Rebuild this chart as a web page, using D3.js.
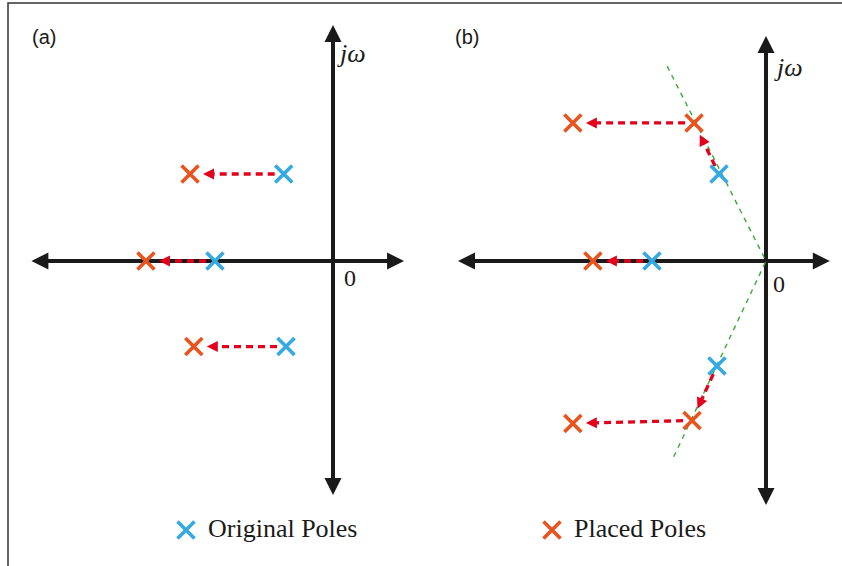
<!DOCTYPE html>
<html>
<head>
<meta charset="utf-8">
<script src="https://cdn.jsdelivr.net/npm/d3@7"></script>
<style>
  body { margin: 0; background: #fff; }
  svg { display: block; }
</style>
</head>
<body>
<script>
'use strict';

// pole positions in s-plane units [sigma, omega]
const originalA = [[-1.7, 3.0], [-4.07, 0], [-1.62, -2.95]];
const placedA = [[-4.93, 3.0], [-6.45, 0], [-4.8, -2.95]];
// moves in panel (a): index into original -> index into placed
const movesA = [[0, 0], [1, 1], [2, 2]];

const originalB = [[-3.93, 0], [-1.62, 3.0], [-1.69, -3.62]];
const placedB = [[-5.97, 0], [-2.48, 4.76], [-6.66, 4.76], [-2.55, -5.5], [-6.66, -5.6]];
// moves in panel (b): [from, to] as points
const movesB = [
  [originalB[0], placedB[0]],
  [originalB[1], placedB[1]],
  [placedB[1], placedB[2]],
  [originalB[2], placedB[3]],
  [placedB[3], placedB[4]]
];
// damping-ratio line end points
const dampLine = [[-3.41, 6.72], [0, 0], [-3.2, -6.79]];

const legendLabels = ['Original Poles', 'Placed Poles'];

const BLUE = '#35a9e1', ORANGE = '#e8531e', RED = '#e3001b', GREEN = '#3aaa35', INK = '#1a1a1a';
const UNIT = 29;
const SERIF = '"Liberation Serif", "Times New Roman", "DejaVu Serif", serif';

const width = 842, height = 566;
const svg = d3.select('body').append('svg')
  .attr('width', width).attr('height', height);

// frame (only top and left edges show)
svg.append('path')
  .attr('d', 'M8,' + height + ' V3 H' + width)
  .attr('fill', 'none').attr('stroke', '#333').attr('stroke-width', 1.5);

const panels = [
  {label: '(a)', lx: 32, ly: 44, ox: 333, oy: 261, xmin: -10.4, xmax: 2.45, ymin: -8.07, ymax: 8.14,
   jx: 340, jy: 62, zx: 344, zy: 286},
  {label: '(b)', lx: 455, ly: 44, ox: 766, oy: 261, xmin: -10.62, xmax: 2.2, ymin: -8.41, ymax: 7.76,
   jx: 777, jy: 76, zx: 773, zy: 292}
];

panels.forEach(p => {
  p.x = d3.scaleLinear().domain([0, 1]).range([p.ox, p.ox + UNIT]);
  p.y = d3.scaleLinear().domain([0, 1]).range([p.oy, p.oy - UNIT]);
});

function arrowHead(g, tip, dir, len, half, color) {
  const [ux, uy] = dir;
  const bx = tip[0] - ux * len, by = tip[1] - uy * len;
  const pts = [tip, [bx - uy * half, by + ux * half], [bx + uy * half, by - ux * half]];
  g.append('path')
    .attr('d', 'M' + pts.map(q => q.join(',')).join('L') + 'Z')
    .attr('fill', color);
}

function drawAxes(p) {
  const g = svg.append('g');
  const x0 = p.x(p.xmin), x1 = p.x(p.xmax), y0 = p.y(p.ymin), y1 = p.y(p.ymax);
  const L = 17, H = 8.5;
  g.append('line').attr('x1', x0 + L - 2).attr('x2', x1 - L + 2).attr('y1', p.oy).attr('y2', p.oy)
    .attr('stroke', INK).attr('stroke-width', 4);
  g.append('line').attr('x1', p.ox).attr('x2', p.ox).attr('y1', y1 + L - 2).attr('y2', y0 - L + 2)
    .attr('stroke', INK).attr('stroke-width', 4);
  arrowHead(g, [x0, p.oy], [-1, 0], L, H, INK);
  arrowHead(g, [x1, p.oy], [1, 0], L, H, INK);
  arrowHead(g, [p.ox, y1], [0, -1], L, H, INK);
  arrowHead(g, [p.ox, y0], [0, 1], L, H, INK);

  g.append('text').attr('x', p.jx).attr('y', p.jy)
    .attr('font-family', SERIF)
    .attr('font-style', 'italic').attr('font-size', 26).attr('fill', INK)
    .text('jω');
  g.append('text').attr('x', p.zx).attr('y', p.zy)
    .attr('font-family', SERIF)
    .attr('font-size', 24).attr('fill', INK)
    .text('0');
  g.append('text').attr('x', p.lx).attr('y', p.ly)
    .attr('font-family', '"Liberation Sans", Arial, sans-serif')
    .attr('font-size', 20).attr('fill', INK)
    .text(p.label);
}

function drawMove(p, from, to) {
  const g = svg.append('g');
  const ax = p.x(from[0]), ay = p.y(from[1]), bx = p.x(to[0]), by = p.y(to[1]);
  const d = Math.hypot(bx - ax, by - ay);
  const ux = (bx - ax) / d, uy = (by - ay) / d;
  const start = 9, tipOff = 13, len = 11, half = 5.5;
  const tip = [bx - ux * tipOff, by - uy * tipOff];
  g.append('line')
    .attr('x1', ax + ux * start).attr('y1', ay + uy * start)
    .attr('x2', tip[0] - ux * (len - 1)).attr('y2', tip[1] - uy * (len - 1))
    .attr('stroke', RED).attr('stroke-width', 3.3).attr('stroke-dasharray', '7,5');
  arrowHead(g, tip, [ux, uy], len, half, RED);
}

function drawCross(g, cx, cy, color, r) {
  g.append('path')
    .attr('d', `M${cx - r},${cy - r}L${cx + r},${cy + r}M${cx - r},${cy + r}L${cx + r},${cy - r}`)
    .attr('stroke', color).attr('stroke-width', 3.6).attr('fill', 'none');
}

function drawPoles(p, pts, color) {
  const g = svg.append('g');
  pts.forEach(d => drawCross(g, p.x(d[0]), p.y(d[1]), color, 8.5));
}

// panel (a)
const pa = panels[0];
drawAxes(pa);
movesA.forEach(([i, j]) => drawMove(pa, originalA[i], placedA[j]));
drawPoles(pa, placedA, ORANGE);
drawPoles(pa, originalA, BLUE);

// panel (b)
const pb = panels[1];
drawAxes(pb);
svg.append('path')
  .datum(dampLine)
  .attr('d', d3.line().x(d => pb.x(d[0])).y(d => pb.y(d[1])))
  .attr('fill', 'none').attr('stroke', GREEN).attr('stroke-width', 1.4)
  .attr('stroke-dasharray', '5,5');
movesB.forEach(([a, b]) => drawMove(pb, a, b));
drawPoles(pb, placedB, ORANGE);
drawPoles(pb, originalB, BLUE);

// legend
const legend = svg.append('g');
const legendItems = [
  {x: 186, color: BLUE, label: legendLabels[0]},
  {x: 552, color: ORANGE, label: legendLabels[1]}
];
legendItems.forEach(it => {
  drawCross(legend, it.x, 530, it.color, 8.5);
  legend.append('text').attr('x', it.x + 22).attr('y', 537)
    .attr('font-family', SERIF)
    .attr('font-size', 26).attr('fill', INK)
    .text(it.label);
});
</script>
</body>
</html>
